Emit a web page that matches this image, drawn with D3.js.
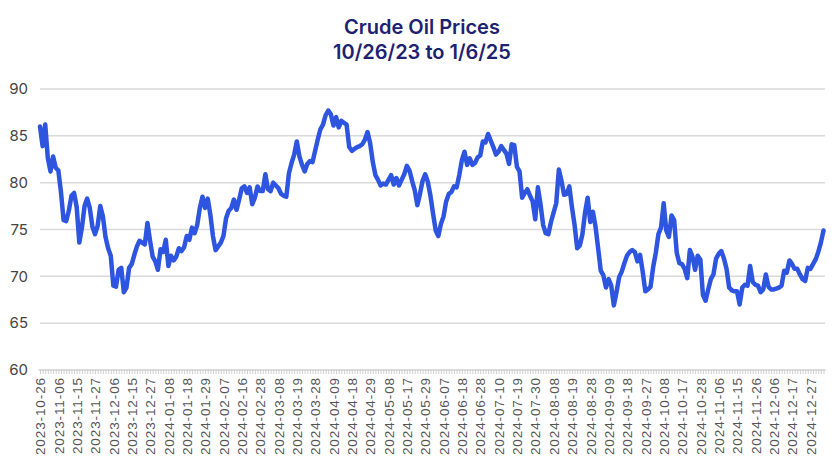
<!DOCTYPE html>
<html><head><meta charset="utf-8">
<script src="https://cdn.jsdelivr.net/npm/d3@7"></script>
<style>body{margin:0;background:#fff}svg{display:block}</style>
</head><body><svg id="chart" width="840" height="472"></svg>
<script>
const title = "Crude Oil Prices";
const subtitle = "10/26/23 to 1/6/25";
const startDate = "2023-10-26";
const endDate = "2025-01-06";
const holidays = ["2023-11-23","2023-12-25","2024-01-01","2024-01-15","2024-02-19","2024-03-29",
  "2024-05-27","2024-06-19","2024-07-04","2024-09-02","2024-11-28","2024-12-25","2025-01-01"];
const yTicks = [60, 65, 70, 75, 80, 85, 90];
const labelEvery = 7;
const prices = [
  86.0, 83.9, 86.2, 82.6, 81.2, 82.8, 81.6, 81.3, 79.0, 76.0,
  75.9, 77.0, 78.6, 78.9, 77.4, 73.6, 75.2, 77.5, 78.3, 77.3,
  75.3, 74.5, 75.4, 77.5, 76.4, 74.2, 73.0, 72.2, 69.0, 68.9,
  70.7, 70.9, 68.3, 68.8, 70.9, 71.3, 72.3, 73.2, 73.8, 73.6,
  73.4, 75.7, 73.8, 72.1, 71.6, 70.7, 72.9, 72.6, 73.9, 71.1,
  72.2, 71.7, 72.1, 73.0, 72.7, 73.1, 74.3, 73.9, 75.2, 74.6,
  75.5, 77.3, 78.5, 77.3, 78.3, 76.6, 74.3, 72.8, 73.2, 73.6,
  74.3, 76.2, 77.0, 77.3, 78.2, 77.1, 78.2, 79.4, 79.6, 78.9,
  79.5, 77.7, 78.4, 79.6, 79.1, 79.1, 80.9, 79.3, 79.1, 80.0,
  79.7, 79.4, 78.8, 78.6, 78.5, 81.0, 82.1, 83.0, 84.4, 82.8,
  81.9, 81.2, 82.0, 82.3, 82.2, 83.4, 84.6, 85.7, 86.2, 87.2,
  87.7, 87.3, 86.1, 87.0, 85.9, 86.6, 86.4, 86.2, 83.8, 83.4,
  83.6, 83.8, 83.9, 84.1, 84.6, 85.4, 84.2, 82.2, 80.8, 80.3,
  79.7, 79.9, 79.8, 80.3, 80.8, 79.8, 80.5, 79.7, 80.3, 80.9,
  81.8, 81.3, 80.2, 79.2, 77.6, 78.8, 80.2, 80.9, 80.1, 78.6,
  76.7, 74.9, 74.3, 75.6, 76.4, 78.0, 78.8, 79.0, 79.6, 79.5,
  80.8, 82.4, 83.3, 81.9, 82.6, 81.9, 82.1, 82.7, 82.9, 84.4,
  84.3, 85.2, 84.5, 83.8, 83.0, 83.3, 83.9, 83.5, 83.1, 82.0,
  84.1, 84.0, 81.7, 81.2, 78.4, 78.9, 79.3, 78.6, 78.0, 76.1,
  79.5, 77.7, 75.5, 74.6, 74.5, 75.8, 76.8, 77.8, 81.4, 80.2,
  78.7, 78.8, 79.6, 77.4, 75.5, 73.0, 73.3, 74.5, 76.8, 78.4,
  75.8, 76.9, 75.3, 73.0, 70.6, 70.1, 68.8, 69.7, 69.0, 66.9,
  68.3, 69.9, 70.5, 71.4, 72.2, 72.6, 72.8, 72.6, 71.6, 72.3,
  70.5, 68.4, 68.6, 68.9, 71.0, 72.5, 74.5, 75.2, 77.8, 74.9,
  74.2, 76.5, 76.0, 72.5, 71.4, 71.3, 70.8, 69.8, 72.8, 72.1,
  70.7, 72.2, 71.8, 68.0, 67.4, 68.6, 69.7, 70.2, 71.9, 72.4,
  72.7, 71.9, 70.8, 68.8, 68.5, 68.4, 68.4, 67.0, 68.8, 69.1,
  69.0, 71.1, 69.4, 69.1, 69.0, 68.3, 68.6, 70.2, 68.9, 68.6,
  68.6, 68.7, 68.8, 69.0, 70.6, 70.4, 71.7, 71.3, 70.8, 70.8,
  70.2, 69.7, 69.5, 70.9, 70.8, 71.3, 71.8, 72.6, 73.6, 74.9
];

const fmt = d3.utcFormat("%Y-%m-%d");
const parse = d3.utcParse("%Y-%m-%d");
const dates = d3.utcDays(parse(startDate), d3.utcDay.offset(parse(endDate), 1))
  .filter(d => d.getUTCDay() !== 0 && d.getUTCDay() !== 6)
  .map(fmt)
  .filter(s => !holidays.includes(s));
const data = dates.map((d, i) => ({date: d, value: prices[i]})).filter(d => d.value != null);
const labelDates = dates.filter((d, i) => i % labelEvery === 0);

const svg = d3.select("#chart");
const x = d3.scalePoint().domain(dates).range([40, 823.5]);
const y = d3.scaleLinear().domain([60, 90]).range([370, 89]);

// title
svg.append("text").attr("x", 422).attr("y", 34).attr("text-anchor", "middle")
  .style("font-family", "Inter, 'Open Sans', sans-serif").style("font-weight", 600)
  .style("font-size", "20px").style("fill", "#1c2170").text(title);
svg.append("text").attr("x", 422).attr("y", 59).attr("text-anchor", "middle")
  .style("font-family", "Inter, 'Open Sans', sans-serif").style("font-weight", 600)
  .style("font-size", "20px").style("fill", "#1c2170").text(subtitle);

// gridlines
svg.append("g").selectAll("line").data(yTicks.filter(t => t !== 60)).join("line")
  .attr("x1", 40).attr("x2", 825)
  .attr("y1", d => y(d)).attr("y2", d => y(d))
  .attr("stroke", "#d9d9d9").attr("stroke-width", 1.5);

// y axis labels
const yAxis = svg.append("g").attr("transform", "translate(28,0)")
  .call(d3.axisLeft(y).tickValues(yTicks).tickSize(0).tickPadding(0));
yAxis.select(".domain").remove();
yAxis.selectAll("text").style("font-family", "Inter, 'Open Sans', sans-serif")
  .style("font-size", "15px").style("fill", "#444");

// x axis ticks
const xTicks = svg.append("g").attr("transform", "translate(0,370)")
  .call(d3.axisBottom(x).tickValues(dates).tickSize(4).tickFormat(""));
xTicks.select(".domain").attr("stroke", "#cfcfcf").attr("stroke-width", 1.5)
  .attr("d", "M38.5,0H825.5");
xTicks.selectAll(".tick line").attr("stroke", "#cfcfcf");

// x axis labels
const xLab = svg.append("g").attr("transform", "translate(0,370)")
  .call(d3.axisBottom(x).tickValues(labelDates).tickSize(0));
xLab.select(".domain").remove();
xLab.selectAll("text")
  .attr("transform", "rotate(-90)")
  .attr("x", -7).attr("y", 0).attr("dy", "0.35em")
  .attr("text-anchor", "end")
  .style("font-family", "'Liberation Sans', Arial, sans-serif")
  .style("font-size", "13.5px").style("letter-spacing", "0.9px").style("fill", "#555");

// line
svg.append("path").datum(data)
  .attr("fill", "none").attr("stroke", "#2d55e0").attr("stroke-width", 4.5)
  .attr("stroke-linejoin", "round").attr("stroke-linecap", "round")
  .attr("d", d3.line().x(d => x(d.date)).y(d => y(d.value)));
</script></body></html>
